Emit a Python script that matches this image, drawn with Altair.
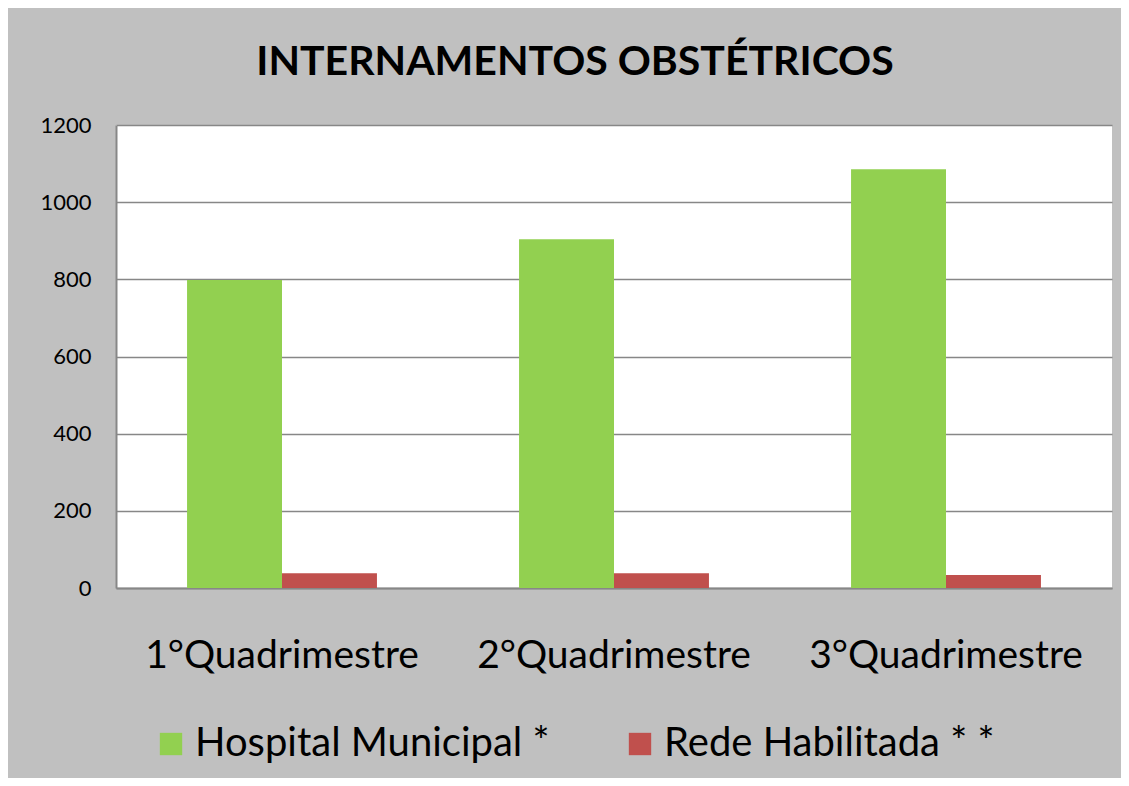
import altair as alt
import pandas as pd

categories = ["1°Quadrimestre", "2°Quadrimestre", "3°Quadrimestre"]
series = ["Hospital Municipal *", "Rede Habilitada * *"]
hospital_municipal = [798, 904, 1085]
rede_habilitada = [38, 38, 34]
colors = ["#92d050", "#c0504d"]
y_ticks = [0, 200, 400, 600, 800, 1000, 1200]

rows = []
for i, c in enumerate(categories):
    rows.append({"Quadrimestre": c, "Serie": series[0], "Valor": hospital_municipal[i]})
    rows.append({"Quadrimestre": c, "Serie": series[1], "Valor": rede_habilitada[i]})
df = pd.DataFrame(rows)

FONT = "Lato"

chart = alt.Chart(df).mark_bar().encode(
    x=alt.X("Quadrimestre:N", sort=categories,
            scale=alt.Scale(paddingInner=0.428, paddingOuter=0.214),
            axis=alt.Axis(title=None, labelAngle=0, labelFontSize=39, labelFont=FONT,
                          labelColor="#000000", labelPadding=48, ticks=False, labelLimit=500,
                          domainColor="#878787", domainWidth=2)),
    xOffset=alt.XOffset("Serie:N", sort=series, scale=alt.Scale(paddingInner=0, paddingOuter=0)),
    y=alt.Y("Valor:Q", scale=alt.Scale(domain=[0, 1200], nice=False),
            axis=alt.Axis(title=None, values=y_ticks, format="d", labelFontSize=22, labelFont=FONT,
                          labelColor="#000000", labelPadding=25, ticks=False,
                          domainColor="#878787", domainWidth=2,
                          gridColor="#878787", gridWidth=1.5, gridOpacity=1)),
    color=alt.Color("Serie:N", sort=series,
                    scale=alt.Scale(domain=series, range=colors),
                    legend=alt.Legend(title=None, orient="none", direction="horizontal",
                                      legendX=35, legendY=599, symbolType="square",
                                      symbolSize=500, symbolStrokeWidth=0, symbolOpacity=1,
                                      labelFontSize=40, labelFont=FONT, labelColor="#000000",
                                      labelOffset=4, columnPadding=70, padding=0,
                                      labelLimit=600)),
).properties(
    width=996,
    height=463,
    title=alt.TitleParams("INTERNAMENTOS OBSTÉTRICOS", fontSize=41, font=FONT,
                          fontWeight="bold", color="#000000", anchor="middle",
                          dx=-39, offset=30),
    autosize=alt.AutoSizeParams(type="none"),
    padding={"left": 108, "top": 117, "right": 9, "bottom": 190},
).configure(
    background="#c0c0c0",
).configure_view(
    stroke=None,
    fill="#ffffff",
)

chart.save("out.html", embed_options={"renderer": "svg", "actions": False})
